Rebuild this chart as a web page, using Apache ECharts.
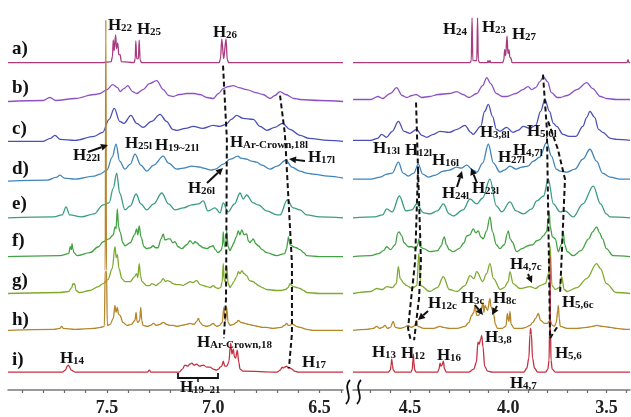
<!DOCTYPE html>
<html>
<head>
<meta charset="utf-8">
<script src="https://cdn.jsdelivr.net/npm/echarts@6/dist/echarts.min.js"></script>
<style>
html, body { margin: 0; padding: 0; background: #fff; }
#chart { width: 631px; height: 417px; }
</style>
</head>
<body>
<div id="chart"></div>
<script>
// spectra: [ppm, intensity above own baseline]
const a_left = [[7.965,0],[7.52,0],[7.48,1],[7.474,6],[7.470,23],[7.466,12],[7.459,28],[7.455,14],[7.449,20],[7.444,8],[7.438,8],[7.432,1],[7.372,0],[7.367,4],[7.364,22],[7.360,4],[7.352,4],[7.348,23],[7.344,3],[7.338,0],[6.972,0],[6.966,4],[6.960,24],[6.951,4],[6.940,24],[6.934,3],[6.928,0],[6.39,0]];
const a_right = [[4.79,0],[4.195,0],[4.188,2],[4.184,45],[4.180,2],[4.160,2],[4.156,45],[4.152,2],[4.145,0],[4.106,0],[4.103,2],[4.098,0],[4.093,2],[4.088,0],[4.028,0],[4.022,3],[4.018,13],[4.013,7],[4.006,27],[4.001,9],[3.996,13],[3.991,5],[3.987,5],[3.980,0],[3.395,0],[3.390,3],[3.385,0],[3.38,0]];

const b_left = [[7.965,0],[7.80,1],[7.768,4],[7.74,1],[7.65,3],[7.56,7],[7.532,8],[7.50,12],[7.473,17],[7.45,14],[7.438,10],[7.42,13],[7.402,16],[7.38,10],[7.36,8],[7.33,12],[7.30,18],[7.266,21],[7.235,12],[7.21,6],[7.189,5],[7.16,7],[7.125,8],[7.09,8],[7.062,7],[7.03,4],[7.001,3],[6.975,8],[6.953,13],[6.93,15],[6.906,16],[6.88,14],[6.843,12],[6.80,9],[6.766,7],[6.733,3],[6.71,6],[6.686,10],[6.66,7],[6.62,3],[6.592,2],[6.50,1],[6.39,0]];
const b_right = [[4.79,2],[4.70,2],[4.663,5],[4.64,3],[4.60,8],[4.568,14],[4.54,6],[4.517,4],[4.49,6],[4.469,7],[4.44,4],[4.40,5],[4.357,7],[4.30,8],[4.262,10],[4.23,7],[4.20,4],[4.16,8],[4.13,16],[4.109,24],[4.09,18],[4.06,8],[4.03,5],[4.008,5],[3.96,8],[3.925,12],[3.899,15],[3.88,12],[3.86,14],[3.838,20],[3.821,25],[3.80,20],[3.78,9],[3.75,4],[3.736,4],[3.70,6],[3.65,12],[3.60,19],[3.57,13],[3.53,5],[3.499,3],[3.45,2],[3.38,2]];

const c_left = [[7.965,0],[7.80,0],[7.765,3],[7.744,6],[7.72,2],[7.65,1],[7.56,5],[7.52,9],[7.49,22],[7.465,33],[7.44,20],[7.42,18],[7.387,26],[7.36,18],[7.33,14],[7.29,20],[7.25,27],[7.22,20],[7.19,12],[7.172,11],[7.13,13],[7.094,15],[7.05,13],[7.00,16],[6.97,15],[6.94,17],[6.915,22],[6.890,26],[6.86,23],[6.812,22],[6.78,15],[6.749,11],[6.71,14],[6.674,18],[6.64,12],[6.592,6],[6.55,3],[6.46,1],[6.39,0]];
const c_right = [[4.79,1],[4.70,1],[4.665,3],[4.644,7],[4.62,4],[4.59,10],[4.559,20],[4.53,10],[4.50,8],[4.466,12],[4.44,6],[4.415,4],[4.38,7],[4.347,10],[4.30,9],[4.26,12],[4.220,16],[4.19,9],[4.179,7],[4.14,15],[4.12,30],[4.101,37],[4.08,25],[4.06,12],[4.042,10],[4.008,14],[3.976,9],[3.95,11],[3.923,15],[3.89,13],[3.86,16],[3.835,30],[3.813,42],[3.79,30],[3.77,18],[3.753,15],[3.721,7],[3.69,5],[3.655,5],[3.62,15],[3.60,24],[3.584,30],[3.56,24],[3.54,12],[3.518,9],[3.48,3],[3.448,2],[3.38,1]];

const d_left = [[7.965,0],[7.78,1],[7.735,4],[7.721,6],[7.70,3],[7.65,2],[7.56,5],[7.532,7],[7.50,11],[7.475,24],[7.457,37],[7.44,20],[7.415,12],[7.39,17],[7.368,27],[7.34,16],[7.313,10],[7.28,16],[7.235,25],[7.21,18],[7.172,12],[7.14,13],[7.101,15],[7.06,14],[7.047,13],[7.01,11],[6.99,12],[6.953,17],[6.92,22],[6.884,25],[6.87,23],[6.843,22],[6.82,20],[6.796,19],[6.77,16],[6.733,12],[6.70,15],[6.658,21],[6.63,14],[6.592,10],[6.561,8],[6.531,7],[6.46,5],[6.39,3]];
const d_right = [[4.79,2],[4.70,2],[4.65,4],[4.618,7],[4.59,8],[4.559,19],[4.535,8],[4.509,5],[4.48,8],[4.458,17],[4.435,7],[4.407,4],[4.37,6],[4.330,10],[4.30,11],[4.262,14],[4.24,13],[4.211,16],[4.18,11],[4.160,9],[4.13,18],[4.101,37],[4.075,18],[4.042,9],[4.02,11],[3.991,15],[3.96,12],[3.931,14],[3.90,15],[3.872,20],[3.84,24],[3.804,39],[3.78,25],[3.755,12],[3.736,10],[3.702,9],[3.66,12],[3.62,22],[3.584,32],[3.55,20],[3.52,8],[3.482,4],[3.43,2],[3.38,2]];

const e_left = [[7.965,0],[7.75,1],[7.71,3],[7.692,11],[7.675,3],[7.62,1],[7.56,4],[7.518,13],[7.49,15],[7.47,30],[7.454,45],[7.44,25],[7.415,8],[7.39,12],[7.363,24],[7.34,14],[7.313,8],[7.28,14],[7.242,25],[7.21,14],[7.180,8],[7.14,10],[7.101,13],[7.07,14],[7.047,17],[7.025,7],[6.992,10],[6.968,5],[6.953,15],[6.931,6],[6.90,14],[6.874,25],[6.859,19],[6.843,23],[6.812,15],[6.788,13],[6.749,7],[6.70,3],[6.686,3],[6.652,18],[6.624,10],[6.592,8],[6.561,3],[6.50,1],[6.39,0]];
const e_right = [[4.79,0],[4.68,1],[4.64,3],[4.618,9],[4.59,6],[4.554,22],[4.52,7],[4.49,8],[4.466,14],[4.43,5],[4.398,4],[4.36,7],[4.330,14],[4.30,4],[4.280,2],[4.23,8],[4.194,19],[4.160,14],[4.13,20],[4.093,39],[4.06,12],[4.033,6],[3.991,16],[3.96,7],[3.923,4],[3.88,9],[3.855,17],[3.82,22],[3.796,39],[3.77,14],[3.736,6],[3.711,7],[3.669,1],[3.62,14],[3.567,32],[3.53,14],[3.50,4],[3.482,1],[3.38,0]];

const f_left = [[7.965,0],[7.72,1],[7.68,3],[7.672,10],[7.667,7],[7.664,13],[7.660,8],[7.655,4],[7.64,1],[7.58,4],[7.54,10],[7.518,15],[7.49,18],[7.47,22],[7.462,30],[7.457,28],[7.451,48],[7.445,30],[7.438,25],[7.425,14],[7.415,11],[7.39,14],[7.370,22],[7.360,28],[7.355,22],[7.348,31],[7.340,20],[7.325,10],[7.313,8],[7.295,9],[7.283,11],[7.270,9],[7.260,9],[7.245,18],[7.235,23],[7.228,17],[7.222,17],[7.212,18],[7.203,18],[7.190,14],[7.180,15],[7.165,10],[7.148,8],[7.125,12],[7.109,16],[7.095,13],[7.085,15],[7.078,14],[7.062,11],[7.047,9],[7.029,8],[7.015,10],[7.001,11],[6.990,7],[6.978,4],[6.965,6],[6.957,10],[6.953,25],[6.948,12],[6.945,10],[6.941,12],[6.937,26],[6.930,10],[6.921,6],[6.912,10],[6.903,14],[6.892,20],[6.882,26],[6.875,22],[6.866,27],[6.855,22],[6.843,23],[6.835,16],[6.827,14],[6.820,16],[6.812,18],[6.800,13],[6.788,11],[6.770,7],[6.749,4],[6.702,1],[6.665,3],[6.655,8],[6.650,15],[6.647,20],[6.639,12],[6.624,10],[6.610,9],[6.592,7],[6.575,4],[6.561,1],[6.50,0],[6.39,0]];
const f_right = [[4.79,0],[4.70,1],[4.66,3],[4.635,6],[4.618,10],[4.60,7],[4.575,12],[4.562,24],[4.556,25],[4.542,21],[4.53,14],[4.509,10],[4.49,10],[4.470,8],[4.460,12],[4.455,18],[4.448,10],[4.43,8],[4.396,5],[4.36,6],[4.34,11],[4.330,18],[4.325,20],[4.315,12],[4.30,7],[4.280,5],[4.25,8],[4.225,14],[4.211,21],[4.195,22],[4.178,28],[4.165,24],[4.152,26],[4.140,20],[4.127,18],[4.11,26],[4.093,40],[4.08,25],[4.06,12],[4.042,8],[4.02,12],[4.003,24],[4.000,26],[3.99,18],[3.98,15],[3.957,5],[3.93,8],[3.90,11],[3.875,12],[3.855,16],[3.84,17],[3.821,21],[3.805,25],[3.795,38],[3.791,46],[3.786,30],[3.775,20],[3.76,18],[3.745,5],[3.730,12],[3.720,25],[3.712,12],[3.70,5],[3.669,1],[3.63,6],[3.59,18],[3.570,25],[3.550,30],[3.535,24],[3.52,18],[3.50,8],[3.467,1],[3.38,0]];

const g_left = [[7.965,0],[7.72,1],[7.68,2],[7.665,6],[7.660,10],[7.656,9],[7.652,10],[7.645,3],[7.63,1],[7.58,3],[7.54,7],[7.518,10],[7.495,14],[7.475,25],[7.462,47],[7.456,36],[7.451,39],[7.443,25],[7.430,15],[7.415,12],[7.39,12],[7.370,17],[7.360,20],[7.355,16],[7.348,30],[7.342,18],[7.335,12],[7.313,8],[7.300,8],[7.289,10],[7.278,9],[7.269,8],[7.250,11],[7.235,15],[7.225,12],[7.215,13],[7.203,12],[7.190,10],[7.172,9],[7.155,9],[7.142,8],[7.125,10],[7.109,12],[7.095,11],[7.078,13],[7.062,9],[7.047,8],[7.030,7],[7.015,6],[7.000,8],[6.988,6],[6.978,5],[6.965,6],[6.958,12],[6.953,30],[6.948,13],[6.945,12],[6.941,13],[6.937,28],[6.930,10],[6.921,6],[6.912,9],[6.903,12],[6.890,17],[6.882,22],[6.874,20],[6.866,23],[6.855,20],[6.843,18],[6.830,13],[6.812,12],[6.800,10],[6.788,8],[6.770,6],[6.749,4],[6.70,3],[6.686,3],[6.660,4],[6.648,6],[6.639,10],[6.630,8],[6.624,7],[6.605,6],[6.592,5],[6.575,3],[6.561,1],[6.50,0],[6.39,0]];
const g_right = [[4.79,0],[4.70,2],[4.669,5],[4.64,4],[4.618,7],[4.59,6],[4.57,10],[4.559,27],[4.55,15],[4.53,10],[4.517,8],[4.49,5],[4.465,8],[4.455,40],[4.445,8],[4.40,2],[4.36,6],[4.330,17],[4.30,4],[4.26,2],[4.22,8],[4.194,18],[4.175,15],[4.160,22],[4.13,12],[4.11,20],[4.093,30],[4.075,15],[4.04,4],[4.02,6],[4.000,12],[3.991,22],[3.975,10],[3.94,5],[3.889,7],[3.86,5],[3.838,8],[3.81,10],[3.795,20],[3.787,48],[3.777,8],[3.76,4],[3.74,6],[3.728,17],[3.715,4],[3.70,2],[3.65,6],[3.60,15],[3.55,30],[3.53,25],[3.50,10],[3.45,1],[3.38,0]];

const h_left = [[7.965,0],[7.75,1],[7.72,2],[7.713,4],[7.705,2],[7.65,1],[7.56,2],[7.53,3],[7.512,4],[7.508,60],[7.505,312],[7.502,60],[7.498,5],[7.485,6],[7.47,12],[7.462,25],[7.457,18],[7.451,23],[7.445,16],[7.438,15],[7.425,8],[7.405,5],[7.385,6],[7.368,10],[7.363,18],[7.358,9],[7.354,8],[7.346,10],[7.341,23],[7.336,10],[7.330,5],[7.31,4],[7.295,5],[7.281,7],[7.268,5],[7.250,6],[7.235,8],[7.220,6],[7.205,5],[7.189,5],[7.170,4],[7.150,5],[7.125,6],[7.109,7],[7.090,6],[7.078,9],[7.070,12],[7.062,8],[7.048,5],[7.030,4],[7.015,5],[7.000,7],[6.990,5],[6.983,4],[6.970,5],[6.958,8],[6.950,23],[6.946,12],[6.943,10],[6.940,12],[6.937,23],[6.930,8],[6.921,5],[6.905,6],[6.890,8],[6.882,10],[6.870,8],[6.851,7],[6.835,6],[6.813,5],[6.790,4],[6.770,3],[6.749,3],[6.72,2],[6.680,3],[6.665,5],[6.655,7],[6.648,5],[6.639,5],[6.632,6],[6.624,6],[6.616,5],[6.610,4],[6.592,3],[6.56,1],[6.531,0],[6.39,0]];
const h_right = [[4.79,0],[4.72,1],[4.685,2],[4.669,4],[4.655,2],[4.640,3],[4.627,5],[4.615,2],[4.600,3],[4.585,9],[4.575,3],[4.55,2],[4.53,3],[4.509,5],[4.495,3],[4.480,4],[4.470,7],[4.466,10],[4.460,4],[4.43,2],[4.38,2],[4.347,4],[4.330,3],[4.30,2],[4.26,2],[4.22,4],[4.20,8],[4.186,15],[4.175,18],[4.169,25],[4.160,15],[4.152,15],[4.14,18],[4.128,28],[4.124,18],[4.118,25],[4.105,20],[4.093,32],[4.088,24],[4.080,20],[4.075,17],[4.065,6],[4.055,2],[4.030,2],[4.012,4],[4.004,17],[3.999,10],[3.996,9],[3.991,19],[3.985,6],[3.970,2],[3.93,2],[3.910,3],[3.889,5],[3.875,8],[3.860,12],[3.847,17],[3.835,10],[3.815,7],[3.800,7],[3.792,9],[3.787,10],[3.775,5],[3.765,4],[3.755,8],[3.748,20],[3.745,25],[3.740,12],[3.735,4],[3.70,2],[3.65,2],[3.60,3],[3.57,4],[3.55,5],[3.52,4],[3.48,3],[3.45,2],[3.40,1],[3.38,1]];

const i_left = [[7.965,0],[7.71,0],[7.695,2],[7.686,6],[7.682,7],[7.678,6],[7.668,2],[7.65,0],[7.31,0],[7.300,2],[7.294,0],[7.16,0],[7.145,3],[7.133,7],[7.120,6],[7.110,8],[7.101,9],[7.090,7],[7.078,8],[7.065,6],[7.047,7],[7.030,5],[7.015,5],[7.000,3],[6.984,2],[6.975,3],[6.968,5],[6.960,6],[6.953,11],[6.946,6],[6.936,6],[6.927,10],[6.918,29],[6.912,18],[6.906,23],[6.900,15],[6.895,14],[6.887,22],[6.880,10],[6.874,3],[6.86,1],[6.70,0],[6.685,2],[6.676,5],[6.671,4],[6.665,5],[6.655,6],[6.647,4],[6.639,4],[6.630,3],[6.618,1],[6.60,0],[6.39,0]];
const i_right = [[4.79,0],[4.61,0],[4.600,2],[4.596,7],[4.593,13],[4.589,7],[4.585,2],[4.575,0],[4.495,0],[4.488,3],[4.485,12],[4.483,18],[4.480,10],[4.476,2],[4.468,0],[4.36,0],[4.352,3],[4.347,9],[4.342,6],[4.337,7],[4.330,11],[4.324,3],[4.315,0],[4.20,0],[4.175,3],[4.162,10],[4.154,30],[4.148,28],[4.140,33],[4.135,37],[4.128,25],[4.120,6],[4.105,1],[4.08,0],[3.92,0],[3.905,4],[3.895,14],[3.889,38],[3.886,44],[3.882,38],[3.876,14],[3.866,4],[3.85,0],[3.81,0],[3.798,3],[3.792,12],[3.789,45],[3.787,116],[3.785,45],[3.782,12],[3.776,3],[3.76,0],[3.38,0]];

const traceNames = ['a)', 'b)', 'c)', 'd)', 'e)', 'f)', 'g)', 'h)', 'i)'];
const leftSpectra = [a_left, b_left, c_left, d_left, e_left, f_left, g_left, h_left, i_left];
const rightSpectra = [a_right, b_right, c_right, d_right, e_right, f_right, g_right, h_right, i_right];

// tick labels of the broken ppm axis
const leftTicks = [7.5, 7.0, 6.5];
const rightTicks = [4.5, 4.0, 3.5];

// dashed guide lines, [ppm, stacked level]
const guideLeft = [
    [[6.954,326],[6.936,252],[6.940,92],[6.950,52]],
    [[6.686,296],[6.663,257],[6.630,127],[6.630,57],[6.644,22]]
];
const guideRight = [
    [[4.469,289],[4.459,222],[4.474,129],[4.510,62],[4.495,49]],
    [[4.459,222],[4.444,129],[4.454,92],[4.479,50]],
    [[3.823,317],[3.803,262],[3.792,122],[3.787,52]],
    [[3.797,270],[3.747,242],[3.711,212],[3.726,142],[3.736,97]],
    [[3.787,52],[3.745,65]]
];

// ---- layout / styling ----
const stackOffset = [329, 290, 250, 210, 173, 134, 97, 60, 18];
const traceColors = ['#a93a7e', '#8c52c4', '#4a4fb6', '#3f84bb', '#3a9c82', '#44a244', '#7eaa2e', '#b5862a', '#c4303f'];
const rowLabelY = [49, 88, 129, 169, 204, 241, 281, 320, 360];
const serif = '"Liberation Serif", "DejaVu Serif", serif';

let chart = echarts.init(document.getElementById('chart'));

function minorTicks(lo, hi) {
    let out = [];
    for (let v = Math.ceil(lo * 10); v <= Math.floor(hi * 10); v++) out.push(v / 10);
    return out;
}

function ppmAxis(grid, lo, hi, labels, major) {
    return {
        gridIndex: grid, type: 'value', inverse: true, min: lo, max: hi,
        splitLine: { show: false },
        axisLine: { show: !major, lineStyle: { color: '#7a7a7a', width: 1.5 } },
        axisTick: { show: true, customValues: major ? labels : minorTicks(lo, hi), length: major ? 6 : 3, lineStyle: { color: '#6a6a6a', width: 1.2 } },
        axisLabel: {
            show: !major, customValues: labels, formatter: v => v.toFixed(1), margin: 9,
            color: '#222', fontFamily: serif, fontWeight: 'bold', fontSize: 18
        }
    };
}

let series = [];
leftSpectra.forEach((pts, k) => {
    [[pts, 0, 0], [rightSpectra[k], 2, 1]].forEach(([d, xi, yi]) => {
        series.push({
            type: 'line', xAxisIndex: xi, yAxisIndex: yi,
            data: d.map(p => [p[0], p[1] + stackOffset[k]]),
            symbol: 'none', smooth: 0.35, smoothMonotone: 'x', clip: false, silent: true,
            lineStyle: { color: traceColors[k], width: 1.3 }
        });
    });
});
guideLeft.forEach(g => series.push({
    type: 'line', xAxisIndex: 0, yAxisIndex: 0, data: g, symbol: 'none', clip: false, silent: true, z: 5,
    lineStyle: { color: '#111', width: 2, type: [5, 3] }
}));
guideRight.forEach(g => series.push({
    type: 'line', xAxisIndex: 2, yAxisIndex: 1, data: g, symbol: 'none', clip: false, silent: true, z: 5,
    lineStyle: { color: '#111', width: 2, type: [5, 3] }
}));

// annotation helpers (pixel space)
function hLabel(x, y, sub) {
    return [
        { type: 'text', x: x, y: y - 3, z: 100, style: { text: 'H', fill: '#111', font: 'bold 17px ' + serif, verticalAlign: 'top' } },
        { type: 'text', x: x + 13, y: y + 3, z: 100, style: { text: sub, fill: '#111', font: 'bold 11px ' + serif, verticalAlign: 'top' } }
    ];
}
function arrow(x1, y1, x2, y2) {
    const ang = Math.atan2(y2 - y1, x2 - x1), L = 7, W = 3.5;
    const bx = x2 - L * Math.cos(ang), by = y2 - L * Math.sin(ang);
    return [
        { type: 'line', z: 100, shape: { x1: x1, y1: y1, x2: bx, y2: by }, style: { stroke: '#111', lineWidth: 2 } },
        { type: 'polygon', z: 100, shape: { points: [[x2, y2], [bx + W * Math.sin(ang), by - W * Math.cos(ang)], [bx - W * Math.sin(ang), by + W * Math.cos(ang)]] }, style: { fill: '#111' } }
    ];
}

const peakLabels = [
    [108,20,'22'], [137,24,'25'], [213,27,'26'], [443,24,'24'], [482,22,'23'], [512,29,'27'],
    [73,150,'22l'], [125,138,'25l'], [155,140,'19~21l'], [230,137,'Ar-Crown,18l'], [308,152,'17l'], [188,183,'26l'],
    [373,143,'13l'], [405,145,'12l'], [432,155,'16l'], [442,188,'24l'], [472,183,'23l'], [480,127,'3,8l'],
    [498,152,'27l'], [513,145,'4,7l'], [527,126,'5,6l'],
    [510,259,'4,7c'], [428,298,'12c'], [461,293,'3c'], [493,293,'8c'], [562,297,'5,6c'],
    [372,347,'13'], [401,348,'12'], [437,350,'16'], [485,332,'3,8'], [555,348,'5,6'], [510,378,'4,7'],
    [60,353,'14'], [197,337,'Ar-Crown,18'], [302,357,'17'], [180,382,'19–21']
];
const arrowList = [
    [88,152,108,145], [207,183,223,168], [305,161,289,159],
    [457,187,462,171], [477,183,471,168],
    [428,311,418,320], [475,305,483,315], [497,306,492,315], [528,274,532,283]
];

let graphics = [];
traceNames.forEach((t, k) => graphics.push({
    type: 'text', x: 12, y: rowLabelY[k], z: 100,
    style: { text: t, fill: '#111', font: 'bold 19px ' + serif, verticalAlign: 'middle' }
}));
peakLabels.forEach(l => graphics.push(...hLabel(l[0], l[1], l[2])));
arrowList.forEach(a => graphics.push(...arrow(a[0], a[1], a[2], a[3])));
// bracket under H19-21
graphics.push({ type: 'polyline', z: 100, shape: { points: [[178,373],[178,378],[218,378],[218,373]] }, style: { stroke: '#111', lineWidth: 1.8, fill: null } });
graphics.push({ type: 'line', z: 100, shape: { x1: 198, y1: 378, x2: 198, y2: 382 }, style: { stroke: '#111', lineWidth: 1.5 } });
// axis break marks
[348, 359].forEach(x => graphics.push({
    type: 'bezierCurve', z: 100,
    shape: { x1: x + 2, y1: 380, x2: x - 2, y2: 404, cpx1: x - 6, cpy1: 388, cpx2: x + 6, cpy2: 396 },
    style: { stroke: '#111', lineWidth: 1.8, fill: null }
}));

let option = {
    animation: false,
    backgroundColor: '#fff',
    grid: [
        { left: 8, right: 288, top: 0, bottom: 25 },
        { left: 353, right: 1, top: 0, bottom: 25 }
    ],
    xAxis: [
        ppmAxis(0, 6.39, 7.965, leftTicks, false),
        ppmAxis(0, 6.39, 7.965, leftTicks, true),
        ppmAxis(1, 3.38, 4.79, rightTicks, false),
        ppmAxis(1, 3.38, 4.79, rightTicks, true)
    ],
    yAxis: [
        { gridIndex: 0, type: 'value', min: 0, max: 392, show: false },
        { gridIndex: 1, type: 'value', min: 0, max: 392, show: false }
    ],
    series: series,
    graphic: graphics
};

chart.setOption(option);
</script>
</body>
</html>
